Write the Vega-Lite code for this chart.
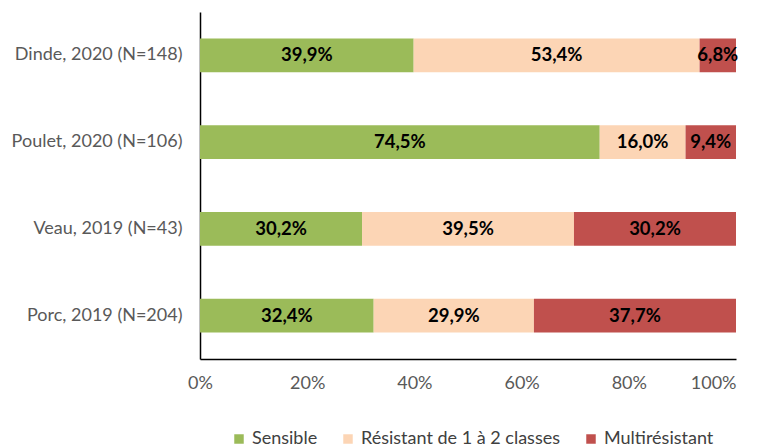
{
  "$schema": "https://vega.github.io/schema/vega-lite/v6.json",
  "width": 536,
  "height": 347,
  "autosize": {"type": "none"},
  "padding": {"left": 200, "top": 12, "right": 24, "bottom": 88},
  "background": "white",
  "config": {
    "locale": {"number": {"decimal": ",", "thousands": " ", "grouping": [3], "currency": ["", " €"]}},
    "font": "Lato",
    "view": {"stroke": null}
  },
  "data": {
    "values": [
      {"groupe": "Dinde, 2020 (N=148)", "cat": "Sensible", "val": 0.399},
      {"groupe": "Dinde, 2020 (N=148)", "cat": "Résistant de 1 à 2 classes", "val": 0.534},
      {"groupe": "Dinde, 2020 (N=148)", "cat": "Multirésistant", "val": 0.068},
      {"groupe": "Poulet, 2020 (N=106)", "cat": "Sensible", "val": 0.745},
      {"groupe": "Poulet, 2020 (N=106)", "cat": "Résistant de 1 à 2 classes", "val": 0.160},
      {"groupe": "Poulet, 2020 (N=106)", "cat": "Multirésistant", "val": 0.094},
      {"groupe": "Veau, 2019 (N=43)", "cat": "Sensible", "val": 0.302},
      {"groupe": "Veau, 2019 (N=43)", "cat": "Résistant de 1 à 2 classes", "val": 0.395},
      {"groupe": "Veau, 2019 (N=43)", "cat": "Multirésistant", "val": 0.302},
      {"groupe": "Porc, 2019 (N=204)", "cat": "Sensible", "val": 0.324},
      {"groupe": "Porc, 2019 (N=204)", "cat": "Résistant de 1 à 2 classes", "val": 0.299},
      {"groupe": "Porc, 2019 (N=204)", "cat": "Multirésistant", "val": 0.377}
    ]
  },
  "transform": [
    {"stack": "val", "groupby": ["groupe"], "sort": [{"field": "cat", "order": "descending"}], "offset": "normalize", "as": ["x0", "x1"]},
    {"calculate": "(datum.x0 + datum.x1) / 2", "as": "xmid"}
  ],
  "encoding": {
    "y": {
      "field": "groupe",
      "type": "nominal",
      "sort": null,
      "scale": {"paddingInner": 0.61, "paddingOuter": 0.305},
      "axis": {
        "title": null,
        "ticks": false,
        "labelFontSize": 18,
        "labelColor": "#595959",
        "labelPadding": 18,
        "labelLimit": 0,
        "domainColor": "#000000",
        "domainWidth": 1.5,
        "labelFont": "Lato"
      }
    }
  },
  "layer": [
    {
      "mark": {"type": "bar"},
      "encoding": {
        "x": {
          "field": "x0",
          "type": "quantitative",
          "scale": {"domain": [0, 1], "nice": false},
          "axis": {
            "title": null,
            "format": ".0%",
            "values": [0, 0.2, 0.4, 0.6, 0.8, 1],
            "grid": false,
            "ticks": false,
            "labelFontSize": 18,
            "labelColor": "#595959",
            "labelPadding": 15,
            "labelAlign": {"condition": {"test": "datum.value == 1", "value": "right"}, "value": "center"},
            "domainColor": "#000000",
            "domainWidth": 1.5
          }
        },
        "x2": {"field": "x1"},
        "color": {
          "field": "cat",
          "type": "nominal",
          "scale": {
            "domain": ["Sensible", "Résistant de 1 à 2 classes", "Multirésistant"],
            "range": ["#9BBB59", "#FCD5B5", "#C0504D"]
          },
          "legend": {
            "title": null,
            "orient": "none",
            "direction": "horizontal",
            "legendX": 30,
            "legendY": 418,
            "padding": 0,
            "symbolType": "square",
            "symbolSize": 90,
            "symbolStrokeWidth": 0,
            "labelFontSize": 18,
            "labelLimit": 0,
            "labelColor": "#404040",
            "labelOffset": 4,
            "columnPadding": 21,
            "labelFont": "Lato"
          }
        }
      }
    },
    {
      "mark": {"type": "text", "fontWeight": "bold", "fontSize": 18.5, "color": "#000000", "baseline": "middle", "align": "center"},
      "encoding": {
        "x": {"field": "xmid", "type": "quantitative"},
        "text": {"field": "val", "type": "quantitative", "format": ".1%"}
      }
    }
  ]
}
